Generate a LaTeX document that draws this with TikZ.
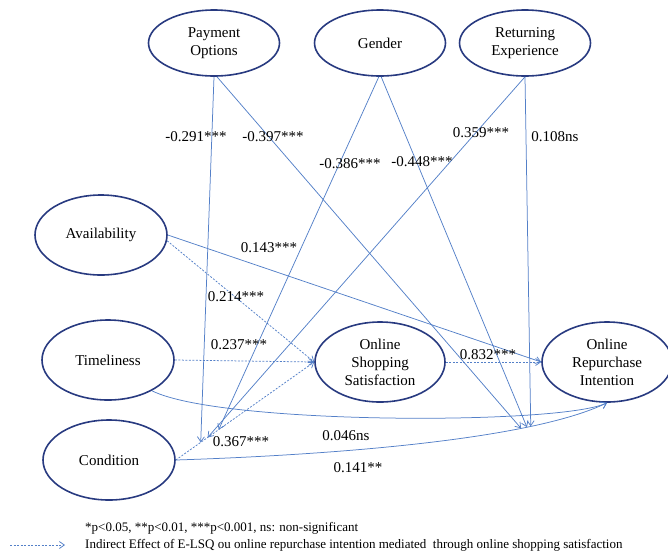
\documentclass[tikz,border=0pt]{standalone}
\usepackage{fontspec}
\setmainfont{Liberation Serif}
\usetikzlibrary{shapes.geometric,arrows.meta}
\definecolor{navy}{RGB}{40,58,128}
\definecolor{pathblue}{RGB}{84,128,200}

\begin{document}
\begin{tikzpicture}[x=1pt,y=-1pt,
	construct/.style={ellipse,draw=navy,line width=1.6pt,minimum width=132pt,minimum height=80pt,inner sep=0pt,align=center,font=\fontsize{15}{18}\selectfont},
	topconstruct/.style={construct,minimum width=131pt,minimum height=66pt},
	effect/.style={draw=pathblue,line width=0.75pt,-{Straight Barb[length=5pt,width=7pt]}},
	indirect/.style={effect,dash pattern=on 2pt off 1.5pt},
	coef/.style={font=\fontsize{15}{17}\selectfont,inner sep=1pt}]
			\useasboundingbox (0,0) rectangle (668,555);
			\node[topconstruct] (pay) at (214,43) {Payment\\Options};
			\node[topconstruct] (gen) at (380,43) {Gender};
			\node[topconstruct] (ret) at (525,43) {Returning\\Experience};
			\node[construct] (avail) at (101,235) {Availability};
			\node[construct] (time) at (108,360) {Timeliness};
			\node[construct] (cond) at (109,460) {Condition};
			\node[construct,minimum width=130pt] (oss) at (380,362) {Online\\Shopping\\Satisfaction};
			\node[construct,minimum width=130pt] (ori) at (607,362) {Online\\Repurchase\\Intention};
			\draw[indirect] (avail.-5) -- (oss.west);
			\draw[indirect] (time.east) -- (oss.west);
			\draw[indirect] (cond.east) -- coordinate[pos=0.18] (m1) coordinate[pos=0.23] (m2) coordinate[pos=0.31] (m3) (oss.west);
			\draw[indirect] (oss.east) -- (ori.west);
			\draw[effect] (avail.east) -- (ori.west);
			\draw[effect] (time.-35) .. controls (220,425) and (560,425) .. (ori.south);
			\draw[effect] (cond.east) .. controls (330,455) and (530,440) .. coordinate[pos=0.73] (n1) coordinate[pos=0.745] (n2) coordinate[pos=0.755] (n3) (ori.south);
			\draw[effect] (pay.south) -- (m1);
			\draw[effect] (pay.-85) -- (n1);
			\draw[effect] (gen.-92) -- (m3);
			\draw[effect] (gen.-88) -- (n2);
			\draw[effect] (ret.south) -- (m2);
			\draw[effect] (ret.south) -- (n3);
			\node[coef] (c1) at (196,137) {-0.291***};
			\node[coef] (c2) at (273,137) {-0.397***};
			\node[coef] (c3) at (481,133) {0.359***};
			\node[coef] (c4) at (555,137) {0.108ns};
			\node[coef] (c5) at (350,164) {-0.386***};
			\node[coef] (c6) at (422,162) {-0.448***};
			\node[coef] (c7) at (269,248) {0.143***};
			\node[coef] (c8) at (236,297) {0.214***};
			\node[coef] (c9) at (239,345) {0.237***};
			\node[coef] (c10) at (488,355) {0.832***};
			\node[coef] (c11) at (241,442) {0.367***};
			\node[coef] (c12) at (346,436) {0.046ns};
			\node[coef] (c13) at (358,468) {0.141**};
			\node[anchor=west,inner sep=0pt,font=\fontsize{13}{15}\selectfont] (sig) at (85,528) {*p<0.05, **p<0.01, ***p<0.001, ns: non-significant};
			\coordinate (keyA) at (10,545);
			\coordinate (keyB) at (65,545);
			\draw[indirect] (keyA) -- (keyB);
			\node[anchor=west,inner sep=0pt,font=\fontsize{13}{15}\selectfont] (note) at (85,545) {Indirect Effect of E-LSQ ou online repurchase intention mediated\ \ through online shopping satisfaction};
		\end{tikzpicture}
\end{document}
